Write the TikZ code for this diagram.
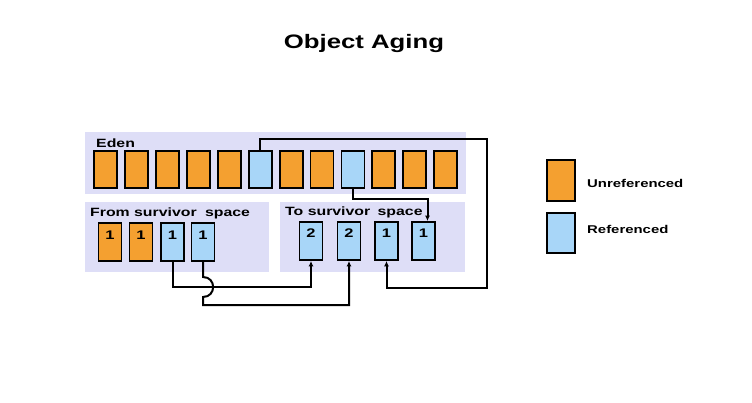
\documentclass[tikz,border=0pt]{standalone}
\usepackage{fontspec}
\setmainfont{Liberation Sans}
\newfontfamily\lbl{Liberation Sans}[FakeStretch=1.32]
\usetikzlibrary{arrows.meta,calc}
\definecolor{orangebox}{HTML}{F4A030}
\definecolor{bluebox}{HTML}{A8D6F8}
\definecolor{panel}{HTML}{DEDEF7}
\begin{document}
\begin{tikzpicture}[x=1pt,y=-1pt,
  obj/.style={draw=black,line width=1.8pt,inner sep=0pt,minimum width=23pt,minimum height=37pt},
  unref/.style={obj,fill=orangebox},
  refd/.style={obj,fill=bluebox},
  num/.style={font=\lbl\bfseries\fontsize{12.5}{12}\selectfont,anchor=center},
  pan/.style={fill=panel,draw=none,inner sep=0pt},
  lab/.style={font=\lbl\bfseries\fontsize{12}{12}\selectfont,anchor=west,inner sep=0pt},
  leg/.style={font=\lbl\bfseries\fontsize{11.3}{11}\selectfont,anchor=west,inner sep=0pt},
  conn/.style={draw=black,line width=2pt},
  arr/.style={conn,-{Latex[length=5.5pt,width=5pt]}}
]
\useasboundingbox[fill=white] (0,0) rectangle (752,403);
% title
\node[font=\lbl\bfseries\fontsize{19.5}{20}\selectfont] (title) at (364,44) {Object Aging};
% panels
\node[pan,minimum width=381pt,minimum height=62pt] (eden) at (275.5,163) {};
\node[pan,minimum width=184pt,minimum height=70pt] (from) at (177,237) {};
\node[pan,minimum width=185pt,minimum height=70pt] (to) at (372.5,237) {};
\node[lab] (edenlab) at (96,143) {Eden};
\node[lab] (fromlab) at (90,213.5) {From survivor\hspace{4pt} space};
\node[lab] (tolab) at (285,212) {To survivor\hspace{3pt} space};
% eden objects
\foreach \i/\s in {1/unref,2/unref,3/unref,4/unref,5/unref,6/refd,7/unref,8/unref,9/refd,10/unref,11/unref,12/unref}{
  \node[\s] (e\i) at ({105.7+30.9*(\i-1)},169.5) {};
}
% from survivor objects
\node[unref,minimum height=38pt] (f1) at (110,242) {};
\node[unref,minimum height=38pt] (f2) at (141,242) {};
\node[refd,minimum height=38pt] (f3) at (172.5,242) {};
\node[refd,minimum height=38pt] (f4) at (203,242) {};
\node[num] (n1) at (110,235) {1};
\node[num] (n2) at (141,235) {1};
\node[num] (n3) at (172.5,235) {1};
\node[num] (n4) at (203,235) {1};
% to survivor objects
\node[refd,minimum height=38pt] (t1) at (311,241) {};
\node[refd,minimum height=38pt] (t2) at (349,241) {};
\node[refd,minimum height=38pt] (t3) at (386.5,241) {};
\node[refd,minimum height=38pt] (t4) at (423.5,241) {};
\node[num] (m1) at (311,233) {2};
\node[num] (m2) at (349,233) {2};
\node[num] (m3) at (386.5,233) {1};
\node[num] (m4) at (423.5,233) {1};
% connectors
\coordinate (r1) at (487,139);
\coordinate (r2) at (487,288);
\draw[arr] (e6.north) |- (r1) -- (r2) -| (t3.south);
\draw[arr] (e9.south) -- ++(0,10.5) -| ($(t4.north)+(4,0)$);
\draw[arr] (f3.south) -- ++(0,25) -| (t1.south);
\coordinate (h1) at (203,277);
\coordinate (h2) at (203,297);
\draw[arr] (f4.south) -- (h1) .. controls (216.5,277) and (216.5,297) .. (h2) -- (203,305) -| (t2.south);
% legend
\node[unref,minimum width=28pt,minimum height=41pt] (lu) at (561,180.5) {};
\node[refd,minimum width=28pt,minimum height=40pt] (lr) at (561,233) {};
\node[leg] (lut) at (587,183) {Unreferenced};
\node[leg] (lrt) at (587,229) {Referenced};
\end{tikzpicture}
\end{document}
